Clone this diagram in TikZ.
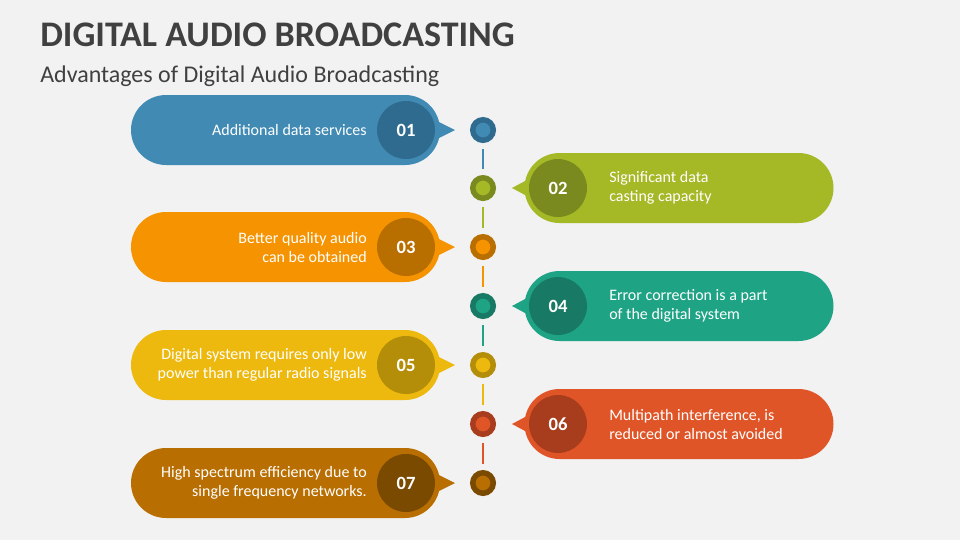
\documentclass[tikz,border=0pt]{standalone}
\usepackage{fontspec}
\setmainfont{Carlito}
\usetikzlibrary{shapes.misc}
\definecolor{bgc}{HTML}{F2F2F2}
\definecolor{ttl}{HTML}{404040}
\definecolor{c1}{HTML}{418AB4}
\definecolor{c1d}{HTML}{2F6B8F}
\definecolor{c2}{HTML}{A5B826}
\definecolor{c2d}{HTML}{7B8A1E}
\definecolor{c3}{HTML}{F59300}
\definecolor{c3d}{HTML}{B96E00}
\definecolor{c4}{HTML}{1FA385}
\definecolor{c4d}{HTML}{187A64}
\definecolor{c5}{HTML}{EEB90E}
\definecolor{c5d}{HTML}{B48E09}
\definecolor{c6}{HTML}{E05528}
\definecolor{c6d}{HTML}{A73D1C}
\definecolor{c7}{HTML}{B86E00}
\definecolor{c7d}{HTML}{794A00}
\begin{document}
\begin{tikzpicture}[x=0.75pt,y=-0.75pt,
	banner/.style={rounded rectangle, minimum width=231.75pt, minimum height=52.5pt, inner sep=0pt},
	num/.style={circle, minimum size=43.5pt, inner sep=0pt, text=white, font=\fontsize{14}{14}\selectfont\bfseries},
	dot/.style={circle, minimum size=15.4pt, inner sep=0pt, line width=4.1pt},
	txt/.style={text=white, inner sep=0pt, font=\fontsize{12}{14.25}\selectfont},
	seg/.style={line width=1.5pt, shorten >=4.5pt, shorten <=4.5pt}]
	\useasboundingbox (0,0) rectangle (960,540);
	\fill[bgc] (0,0) rectangle (960,540);
	% title
	\node (title) at (40,46)	[anchor=base west, inner sep=0pt, text=ttl, font=\fontsize{27}{27}\selectfont\bfseries]	{DIGITAL AUDIO BROADCASTING};
	\node (sub) at (40,82)	[anchor=base west, inner sep=0pt, text=ttl, font=\fontsize{18}{18}\selectfont]	{Advantages of Digital Audio Broadcasting};
	% banners
	\node (B1) at (285.5,130)	[banner, fill=c1]	{};
	\fill[c1] (425,115) -- (455,130) -- (425,145) -- cycle;
	\node (B2) at (679,188)	[banner, fill=c2]	{};
	\fill[c2] (540,173) -- (512,188) -- (540,203) -- cycle;
	\node (B3) at (285.5,247)	[banner, fill=c3]	{};
	\fill[c3] (425,232) -- (455,247) -- (425,262) -- cycle;
	\node (B4) at (679,306)	[banner, fill=c4]	{};
	\fill[c4] (540,291) -- (512,306) -- (540,321) -- cycle;
	\node (B5) at (285.5,365)	[banner, fill=c5]	{};
	\fill[c5] (425,350) -- (455,365) -- (425,380) -- cycle;
	\node (B6) at (679,424)	[banner, fill=c6]	{};
	\fill[c6] (540,409) -- (512,424) -- (540,439) -- cycle;
	\node (B7) at (285.5,483)	[banner, fill=c7]	{};
	\fill[c7] (425,468) -- (455,483) -- (425,498) -- cycle;
	% numbers
	\node (N1) at (406,130)	[num, fill=c1d]	{01};
	\node (N2) at (558,188)	[num, fill=c2d]	{02};
	\node (N3) at (406,247)	[num, fill=c3d]	{03};
	\node (N4) at (558,306)	[num, fill=c4d]	{04};
	\node (N5) at (406,365)	[num, fill=c5d]	{05};
	\node (N6) at (558,424)	[num, fill=c6d]	{06};
	\node (N7) at (406,483)	[num, fill=c7d]	{07};
	% texts
	\node (T1) at (367,130)	[txt, anchor=east, align=right]	{Additional data services};
	\node (T2) at (609,188)	[txt, anchor=west, align=left]	{Significant data\\casting capacity};
	\node (T3) at (367,247)	[txt, anchor=east, align=right]	{Better quality audio\\can be obtained};
	\node (T4) at (609,306)	[txt, anchor=west, align=left]	{Error correction is a part\\of the digital system};
	\node (T5) at (367,365)	[txt, anchor=east, align=right]	{Digital system requires only low\\power than regular radio signals};
	\node (T6) at (609,424)	[txt, anchor=west, align=left]	{Multipath interference, is\\reduced or almost avoided};
	\node (T7) at (367,483)	[txt, anchor=east, align=right]	{High spectrum efficiency due to\\single frequency networks.};
	% timeline
	\node (D1) at (483,130)	[dot, draw=c1d, fill=c1]	{};
	\node (D2) at (483,188)	[dot, draw=c2d, fill=c2]	{};
	\node (D3) at (483,247)	[dot, draw=c3d, fill=c3]	{};
	\node (D4) at (483,306)	[dot, draw=c4d, fill=c4]	{};
	\node (D5) at (483,365)	[dot, draw=c5d, fill=c5]	{};
	\node (D6) at (483,424)	[dot, draw=c6d, fill=c6]	{};
	\node (D7) at (483,483)	[dot, draw=c7d, fill=c7]	{};
	\draw[seg, c1] (D1) -- (D2);
	\draw[seg, c2] (D2) -- (D3);
	\draw[seg, c3] (D3) -- (D4);
	\draw[seg, c4] (D4) -- (D5);
	\draw[seg, c5] (D5) -- (D6);
	\draw[seg, c6] (D6) -- (D7);
\end{tikzpicture}
\end{document}
